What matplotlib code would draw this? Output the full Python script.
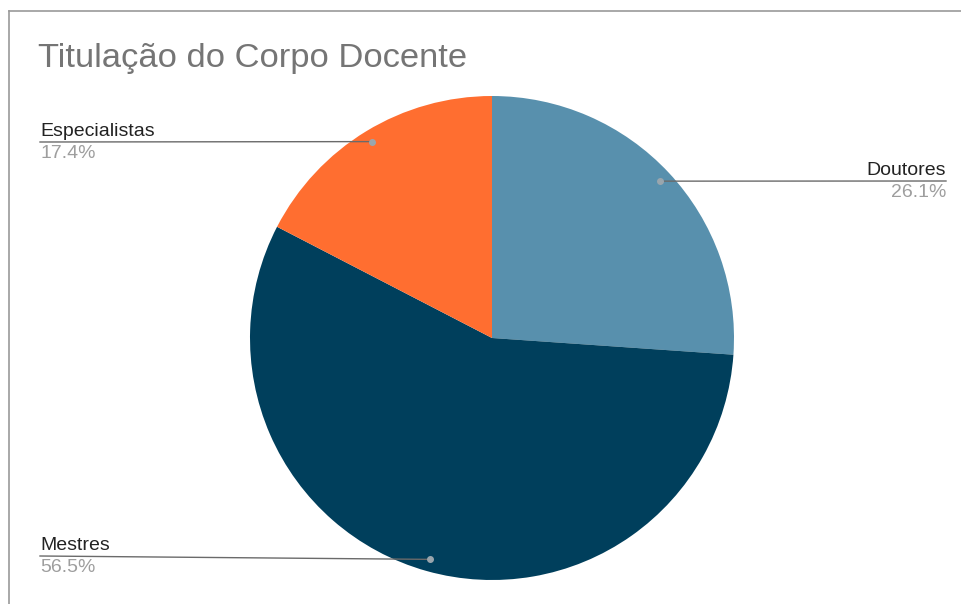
import numpy as np
import matplotlib
matplotlib.use("Agg")
import matplotlib.pyplot as plt
from matplotlib.lines import Line2D

plt.rcParams['font.family'] = ['Liberation Sans', 'DejaVu Sans']

title = "Titulação do Corpo Docente"
categories = ["Doutores", "Mestres", "Especialistas"]
values = [26.1, 56.5, 17.4]
colors = ["#5890ad", "#003f5c", "#ff6e30"]

W, H = 961, 604
fig = plt.figure(figsize=(W / 100, H / 100), dpi=100)
fig.patch.set_facecolor("white")

# frame lines (top & left)
fig.add_artist(Line2D([9 / W, 1], [1 - 11 / H, 1 - 11 / H], color="#9a9a9a", lw=1.2))
fig.add_artist(Line2D([9 / W, 9 / W], [0, 1 - 11 / H], color="#9a9a9a", lw=1.2))

cx, cy, R = 492, 338, 242
ax = fig.add_axes([(cx - R) / W, (H - cy - R) / H, 2 * R / W, 2 * R / H])
ax.pie(values, colors=colors, startangle=90, counterclock=False,
       radius=1.0, wedgeprops=dict(linewidth=0))
ax.set_xlim(-1, 1)
ax.set_ylim(-1, 1)
ax.set_aspect("equal")
ax.axis("off")

fig.text(38 / W, 1 - 58 / H, title, fontsize=24.8, color="#757575", va="center", ha="left")

# label positions (pixels): x of label end, line y
label_pos = {
    "Doutores": (946, 181, "right"),
    "Mestres": (40, 556, "left"),
    "Especialistas": (40, 142, "left"),
}

total = sum(values)
start = 90.0
for cat, v in zip(categories, values):
    span = 360 * v / total
    mid = np.deg2rad(start - span / 2)
    start -= span
    dx, dy = 0.95 * np.cos(mid), 0.95 * np.sin(mid)
    lx_px, ly_px, ha = label_pos[cat]
    lx = (lx_px - cx) / R
    ly = (cy - ly_px) / R
    ax.plot([dx, lx], [dy, ly], color="#6a6a6a", lw=1.0, clip_on=False, zorder=3)
    ax.plot([dx], [dy], "o", color="#9aa6ad", ms=4, clip_on=False, zorder=4)
    ax.text(lx, ly + 0.01, cat, fontsize=14, color="#222222", ha=ha, va="bottom",
            clip_on=False)
    ax.text(lx, ly - 0.012, f"{v:.1f}%", fontsize=14, color="#9e9e9e", ha=ha, va="top",
            clip_on=False)

fig.savefig("out.png", dpi=100, facecolor="white")
